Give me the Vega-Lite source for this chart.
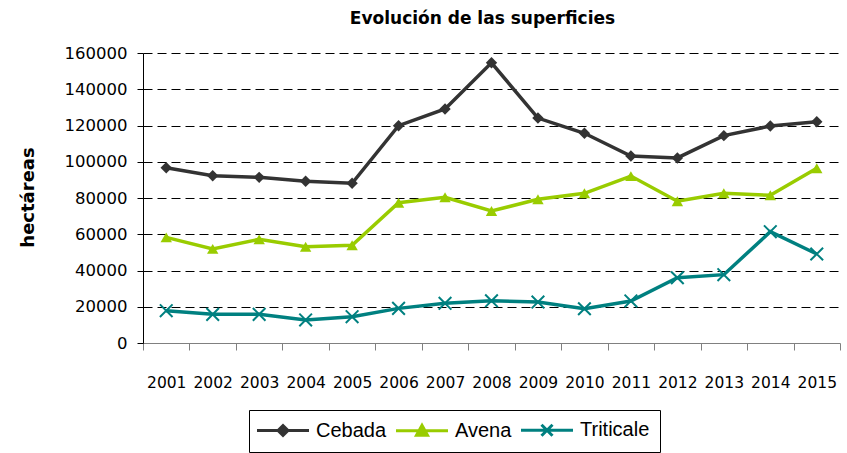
{
  "$schema": "https://vega.github.io/schema/vega-lite/v6.json",
  "width": 697,
  "height": 290,
  "autosize": {"type": "none"},
  "padding": {"left": 143, "top": 53, "right": 7, "bottom": 110},
  "background": "white",
  "title": {"text": "Evolución de las superficies", "font": "DejaVu Sans", "fontSize": 17, "fontWeight": "bold", "color": "black", "anchor": "middle", "dx": -9, "offset": 17},
  "config": {"view": {"stroke": null}},
  "data": {"values": [
    {"year": "2001", "series": "Cebada", "value": 96700},
    {"year": "2002", "series": "Cebada", "value": 92300},
    {"year": "2003", "series": "Cebada", "value": 91400},
    {"year": "2004", "series": "Cebada", "value": 89200},
    {"year": "2005", "series": "Cebada", "value": 88100},
    {"year": "2006", "series": "Cebada", "value": 119900},
    {"year": "2007", "series": "Cebada", "value": 129100},
    {"year": "2008", "series": "Cebada", "value": 154600},
    {"year": "2009", "series": "Cebada", "value": 124100},
    {"year": "2010", "series": "Cebada", "value": 115700},
    {"year": "2011", "series": "Cebada", "value": 103200},
    {"year": "2012", "series": "Cebada", "value": 102100},
    {"year": "2013", "series": "Cebada", "value": 114400},
    {"year": "2014", "series": "Cebada", "value": 119700},
    {"year": "2015", "series": "Cebada", "value": 122100},
    {"year": "2001", "series": "Avena", "value": 58300},
    {"year": "2002", "series": "Avena", "value": 51900},
    {"year": "2003", "series": "Avena", "value": 57200},
    {"year": "2004", "series": "Avena", "value": 53100},
    {"year": "2005", "series": "Avena", "value": 53900},
    {"year": "2006", "series": "Avena", "value": 77400},
    {"year": "2007", "series": "Avena", "value": 80400},
    {"year": "2008", "series": "Avena", "value": 72800},
    {"year": "2009", "series": "Avena", "value": 79300},
    {"year": "2010", "series": "Avena", "value": 82600},
    {"year": "2011", "series": "Avena", "value": 92100},
    {"year": "2012", "series": "Avena", "value": 78200},
    {"year": "2013", "series": "Avena", "value": 82600},
    {"year": "2014", "series": "Avena", "value": 81500},
    {"year": "2015", "series": "Avena", "value": 96400},
    {"year": "2001", "series": "Triticale", "value": 17800},
    {"year": "2002", "series": "Triticale", "value": 15800},
    {"year": "2003", "series": "Triticale", "value": 15800},
    {"year": "2004", "series": "Triticale", "value": 12700},
    {"year": "2005", "series": "Triticale", "value": 14500},
    {"year": "2006", "series": "Triticale", "value": 19100},
    {"year": "2007", "series": "Triticale", "value": 21900},
    {"year": "2008", "series": "Triticale", "value": 23300},
    {"year": "2009", "series": "Triticale", "value": 22600},
    {"year": "2010", "series": "Triticale", "value": 18900},
    {"year": "2011", "series": "Triticale", "value": 23200},
    {"year": "2012", "series": "Triticale", "value": 36000},
    {"year": "2013", "series": "Triticale", "value": 37700},
    {"year": "2014", "series": "Triticale", "value": 61400},
    {"year": "2015", "series": "Triticale", "value": 49100}
  ]},
  "encoding": {
    "x": {"field": "year", "type": "ordinal", "scale": {"type": "band", "paddingInner": 0, "paddingOuter": 0},
      "axis": {"title": null, "labelAngle": 0, "labelFont": "DejaVu Sans", "labelFontSize": 15.5, "labelColor": "black", "labelPadding": 25, "tickSize": 7, "tickBand": "extent", "domainColor": "#808080", "tickColor": "#808080", "grid": false}},
    "y": {"field": "value", "type": "quantitative", "scale": {"domain": [0, 160000], "nice": false},
      "axis": {"title": "hectáreas", "titleFont": "DejaVu Sans", "titleFontSize": 18, "titleFontWeight": "bold", "titleColor": "black", "titleX": -115, "titleY": 144, "titleAngle": -90, "titleAlign": "center", "titleBaseline": "middle",
        "values": [0, 20000, 40000, 60000, 80000, 100000, 120000, 140000, 160000], "format": "d",
        "labelFont": "DejaVu Sans", "labelFontSize": 16.5, "labelColor": "black", "labelPadding": 10, "tickSize": 6, "tickColor": "black", "domainColor": "black",
        "grid": true, "gridColor": "black", "gridDash": [9, 5], "gridWidth": 1}}
  },
  "layer": [
    {
      "mark": {"type": "line", "strokeWidth": 3.5},
      "encoding": {
        "color": {"field": "series", "type": "nominal",
          "scale": {"domain": ["Cebada", "Avena", "Triticale"], "range": ["#333333", "#99cc00", "#008080"]},
          "legend": {"title": null, "orient": "none", "legendX": 106, "legendY": 357, "direction": "horizontal",
            "strokeColor": "black", "fillColor": "white", "padding": 10, "symbolSize": 100, "symbolStrokeWidth": 3,
            "symbolOffset": 14, "labelOffset": 23, "columnPadding": 3,
            "labelFont": "Liberation Sans", "labelFontSize": 20, "labelColor": "black",
            "encode": {"symbols": {"update": {
              "shape": {"signal": "datum.value === 'Cebada' ? 'M-5.2,0H5.2M-1,0L0,-1L1,0L0,1Z' : datum.value === 'Avena' ? 'M-5.2,0H5.2M-1.1,0.9L0,-1.1L1.1,0.9Z' : 'M-5.2,0H5.2M-1.1,-1.1L1.1,1.1M-1.1,1.1L1.1,-1.1'"},
              "fill": {"signal": "datum.value === 'Cebada' ? '#333333' : datum.value === 'Avena' ? '#99cc00' : 'transparent'"},
              "strokeWidth": {"value": 3}
            }}}}
        }
      }
    },
    {
      "transform": [{"filter": "datum.series !== 'Triticale'"}],
      "mark": {"type": "point", "filled": true, "size": 130, "opacity": 1},
      "encoding": {
        "shape": {"field": "series", "type": "nominal", "scale": {"domain": ["Cebada", "Avena"], "range": ["diamond", "triangle-up"]}, "legend": null},
        "fill": {"field": "series", "type": "nominal", "scale": {"domain": ["Cebada", "Avena"], "range": ["#333333", "#99cc00"]}, "legend": null}
      }
    },
    {
      "transform": [{"filter": "datum.series === 'Triticale'"}],
      "mark": {"type": "point", "shape": "M-1,-1L1,1M-1,1L1,-1", "size": 160, "filled": false, "stroke": "#008080", "strokeWidth": 2, "opacity": 1}
    }
  ]
}
